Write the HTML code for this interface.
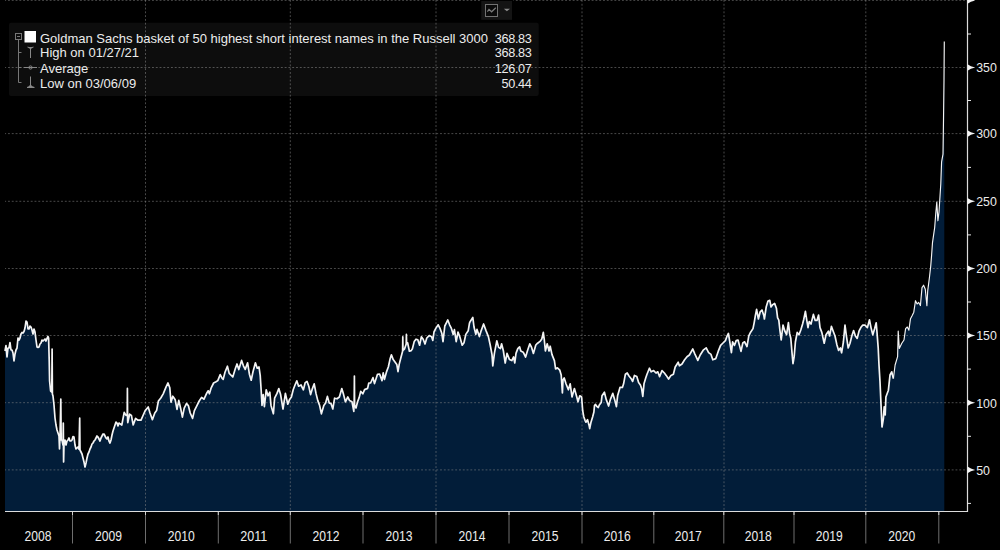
<!DOCTYPE html>
<html><head><meta charset="utf-8"><title>Goldman Sachs basket of 50 highest short interest names</title>
<style>
html,body{margin:0;padding:0;background:#000;}
body{width:1000px;height:550px;overflow:hidden;position:relative;font-family:"Liberation Sans",Arial,sans-serif;}
svg{position:absolute;left:0;top:0;}
.yl{font:13.3px "Liberation Sans",Arial,sans-serif;fill:#ececec;}
.xl{font:14px "Liberation Sans",Arial,sans-serif;fill:#ececec;text-anchor:middle;}
.lg{font:13px "Liberation Sans",Arial,sans-serif;fill:#ececec;}
.lv{font:12.7px "Liberation Sans",Arial,sans-serif;fill:#ececec;text-anchor:end;letter-spacing:-0.35px;}
</style></head>
<body>
<svg width="1000" height="550" viewBox="0 0 1000 550">
<rect x="0" y="0" width="1000" height="550" fill="#000"/>
<path d="M5 512 L5 351 L6 345.5 L7 357 L8 348 L9 348 L10 342.5 L11 350 L12 350 L13 353 L14 361 L15 354 L16 350 L17 348 L18 338 L19 340 L20 338 L21 334 L22 332.5 L23 333 L24 331.5 L25 328 L26 321 L27 322 L28 329 L29 329 L30 326 L31 327 L32 330 L33 334 L34 329 L35 332 L36 340 L37 347 L38 347.5 L39 347 L40 344 L41 343 L42 340 L43 341 L44 340 L45 339 L46 341 L47 338.5 L48 336.5 L48.6 338 L49.2 360 L49.6 381 L50.6 391 L51.8 392 L52.1 349 L52.4 394 L53 396 L54 405 L55 418 L56 425 L57 430 L58 433 L59 436 L59.5 449 L60 437 L60.8 399 L61.2 440 L62 440 L63 445 L63.3 423 L63.6 462 L64 445 L65 440 L66 445 L67 441 L68 440 L69 438 L70 441 L71 441 L72 440 L73 436.5 L74 437 L75 445 L76 449 L77 448 L78 447 L79 449 L79.7 418 L80 450 L81 452 L82 454 L83 458 L84 462 L85 467 L86 463 L87 458 L88 454 L89 452 L90 449 L91 447 L92 444 L93 443 L94 441 L95 440 L96 438 L97 436 L98 437 L99 439 L100 441 L101 438 L102 436 L103 434 L104 434 L105 436 L106 438 L107 439 L108 437 L109 441 L110 443 L111 440 L112 435 L113 431 L114 428 L115 425 L116 422 L117 423 L118 426 L119 423 L120 423.8 L121.8 425 L124.2 412.4 L126 415.4 L127.2 415 L127.4 388.4 L127.6 420 L127.8 422.6 L129.6 414.2 L131.4 415.4 L133.2 425 L135.6 418.4 L138 420.2 L141 420.2 L142.8 416 L145.2 410.6 L148.2 407 L150 413 L152.4 419.6 L154.8 413 L156.6 410.6 L158.4 401 L160.8 398 L163.2 393.8 L166.2 386.6 L168 383 L169.8 387.8 L171 402.2 L172.8 396.2 L175.2 399.8 L177 409.4 L178.8 400.4 L180.6 408.2 L182.4 417.2 L184.2 408.2 L186.6 403.4 L188.4 405.8 L190.2 413 L192.6 418.4 L194.4 410.6 L196.8 405.8 L199.2 401 L201.6 397.4 L204 399.2 L206.4 393.8 L208.2 390.8 L209.4 393.8 L211.2 387.8 L213.6 383 L216 381.8 L217.8 380.6 L220.2 374.6 L222 378.2 L223.2 379.4 L225 372.2 L227.4 366.2 L229.2 373.4 L232.8 377 L235.2 369 L237 364 L238.8 369.6 L241.6 360.4 L243.4 365.8 L245.2 369.4 L247.6 362.8 L249.4 374.2 L251.2 380.2 L253 371.8 L255.4 362.8 L257.2 368.2 L259 367 L260.2 375.4 L261.2 391 L262 405.4 L263.2 394.6 L264.4 406.6 L266.2 389.8 L268 395.8 L269.8 392.2 L271 405.4 L273.4 413.8 L274.6 398.2 L277 393.4 L278.8 388.6 L280.6 394.6 L283 409 L285.4 393.4 L287.8 404.2 L289.6 399.4 L291.4 397 L293.2 389.8 L295 385 L296.8 380.8 L298.6 386.2 L301 385 L303.4 389.8 L305.2 382.6 L307 381.4 L308.8 386.2 L310.6 394.6 L312.4 388.6 L314.2 383.8 L316 393.4 L317.8 400.6 L319.6 405.4 L321.4 413.8 L323.8 405.4 L325.6 403 L327.4 396.4 L329.2 403 L331 403.6 L332.8 409 L334.6 398.2 L337 398.8 L339.4 397 L341.8 388.6 L343.6 394.6 L345.4 401.8 L347.8 397 L349.6 400.6 L352 401.8 L353.8 411.4 L354.2 400 L354.4 376 L354.6 405 L356 408 L357.5 402 L359.2 397.4 L360.7 391.4 L362.8 393.8 L364.6 389.6 L367.6 388.4 L368.8 383 L370.6 383 L373 377.6 L374.5 383.6 L377.5 374.3 L379.6 374 L382 380.6 L383.2 372.8 L384.4 379.4 L386.6 371.6 L388.4 366.8 L390.2 358.4 L391.4 354.8 L393.2 359.6 L395 362 L396.8 364.4 L398 371.6 L399.2 364.4 L401 357.2 L402.6 351.2 L402.8 336.8 L403 350.5 L404.6 348.8 L406.2 344 L406.4 334.4 L406.6 343.5 L407.6 342.8 L409.4 351.2 L411.2 350.6 L412.4 348.8 L414.2 341.6 L416 339.2 L417.8 339.8 L419.6 345.2 L421.4 336.8 L423.2 339.2 L425 344 L426.8 338 L429.2 335.6 L431.6 336.8 L432.8 340.4 L434 332 L435.8 328.4 L438.2 324.8 L440 328.4 L441.8 333.2 L443 341.6 L444.8 326 L446.6 322.4 L447.8 320 L449.6 324.8 L451.4 328.4 L453.2 334.4 L454.4 329.6 L456.2 341.6 L458 332 L459.8 336.8 L462.2 345.2 L464 342.8 L465.8 334.4 L468.2 330.8 L469.4 323.6 L469.8 322.2 L472.8 317.4 L474 327 L475.8 334.2 L477 329.4 L479.4 336.6 L481.2 330.6 L483.6 324 L486 330.6 L488.4 336.6 L490.2 345 L492 354.6 L492.8 366 L494.4 353.4 L496.8 340.8 L498.6 347.4 L500.4 348.6 L501.6 343.8 L503.4 351 L505.2 363 L507 353.4 L509.4 359.4 L511.8 360.6 L513.6 357 L514.8 363 L516 353.4 L517.8 348.6 L519.6 346.8 L520.8 351 L523.2 352.2 L525.6 357 L527.4 351 L529.8 343.8 L531.6 347.4 L533.4 353.4 L535.8 345 L537.6 343.2 L540 341.4 L541.8 339 L543.3 332.4 L544.2 339 L545.4 351 L547.2 343.8 L549 351 L550.2 346.2 L552 354.6 L554.4 360.6 L555.6 369 L557.4 367.8 L559.8 370.2 L561.2 375 L562.4 393 L563 380 L564.2 378 L566 383.8 L568.4 389.8 L570.2 383.8 L572 397 L574.4 388.6 L576.8 397 L578 401.8 L579.8 395.8 L581.6 397 L582.7 410.7 L583.7 416.5 L585 420.3 L585.9 422.2 L587.5 419.6 L589.1 425.4 L589.7 428.6 L591 422.2 L592.6 417 L593.9 412 L594.5 405.6 L595.5 404.4 L596.7 406.3 L598.3 407.5 L599.3 405 L601.2 402.5 L602 395.8 L604.4 392.2 L606.2 399.4 L608.6 406 L610.4 399.4 L612.8 393.4 L614.6 399.4 L616.4 406.6 L617.6 395.8 L620 387.4 L622.4 387.4 L623.6 383.8 L625.4 374.2 L627.2 373 L629 376 L631.4 379 L632.6 381.4 L634.4 375.4 L636.8 376.6 L638.6 382.6 L640.4 385 L641.6 388.6 L642.8 396.4 L644 383.8 L645.8 377.8 L647 374.2 L649.4 368.2 L651.2 371.8 L653.6 370.6 L656 373 L657.8 371.8 L659.6 376.6 L662 370.6 L664.4 373 L666.2 375.4 L668.6 379 L671 375.4 L673.4 374.2 L675.2 367 L678.2 362.2 L679.4 365.8 L682 364 L684.6 359.8 L687 356.8 L689.4 355 L692.8 349 L694.8 353.8 L697.8 360.4 L700.2 355 L703.2 350.2 L706.2 347.8 L708.6 352.6 L711 354.4 L712.8 359.8 L715.8 358.6 L718.2 351.4 L720.6 345.4 L723 343 L725.4 340.6 L727.2 335.8 L728.4 333.4 L729.6 340.6 L731.4 352.6 L732.6 341.8 L734.4 345.4 L736.2 340.6 L738 340 L739.8 346.6 L741 351.4 L742.8 343 L744.6 341.8 L747 346.6 L748.8 335.8 L750.6 332.2 L753 328.6 L754.2 322.6 L755.4 315.4 L756.6 309.4 L758.4 319 L760.2 311.8 L762 310 L763.8 315.4 L764.4 319 L766.2 307 L768 301 L769.8 300.4 L771 307 L772.8 304.6 L774.6 303.4 L776.4 308.2 L777.6 317.8 L778.8 320.2 L780 331 L781.2 340 L783 325 L784.8 331 L786.6 334.6 L788.4 322.6 L789.6 333.4 L790.8 338.2 L792 352.6 L793 363.6 L794.2 356.4 L795.4 342 L797.2 332.4 L799 334.8 L800.8 330 L802.6 324 L803.8 319.2 L805.4 311.4 L806.8 320.4 L808 327.6 L809.2 321.6 L811 324 L813.4 314.4 L815.2 320.4 L817 320.4 L818.6 315 L820 327.6 L821.8 332.4 L824.2 343.2 L826 334.8 L828.4 331.2 L829.6 336 L831.4 326.4 L833.2 331.2 L835 336 L836.8 344.4 L838.6 350.4 L840.4 348 L841.6 352.8 L843.4 342 L845 325.2 L846.4 336 L848.2 348 L850 343.2 L851.8 336 L853.6 330.6 L855.4 336 L857.2 338.4 L859 331.2 L860.8 327.6 L862.6 325.2 L865 325.2 L867.4 327.6 L869.5 319.8 L871 327.6 L872.8 334.8 L874.6 328.8 L876.2 322.8 L877 332.4 L878.2 348 L879 365 L880 381.8 L880.9 401.9 L881.7 420.3 L882 427 L883.4 418.6 L884.2 406.9 L885.2 415 L885.9 397 L888.4 390.2 L890 375 L891.7 371.8 L893.4 378.5 L895.1 365 L897.6 356.7 L898.2 331 L899.3 348.4 L901.8 343.3 L904 340 L905.6 328.6 L907.3 327 L908.9 330.2 L910.5 318.7 L912.2 315.5 L913.8 312.2 L915.5 300.7 L917.1 304 L918.7 302.4 L920.4 305.6 L922 287.6 L923.6 285.2 L925.3 289.3 L926.9 305.6 L927.7 290.9 L929.4 277.8 L930.7 266.4 L931.4 257.9 L932.5 242.6 L934.7 227.3 L935.7 214.2 L936.8 202 L937.9 220.8 L939 212 L940.8 183.7 L941.6 161.8 L943 154.2 L943.5 120 L944 80 L944.3 41.5 L944.3 512 Z" fill="#021d39"/>
<g stroke="rgba(140,140,140,0.52)" stroke-width="1" stroke-dasharray="1.9 1.89" fill="none">
<line x1="5" y1="0.4" x2="967" y2="0.4" stroke-dashoffset="0.8"/>
<line x1="5" y1="67.5" x2="967" y2="67.5" stroke-dashoffset="0.8"/>
<line x1="5" y1="133.6" x2="967" y2="133.6" stroke-dashoffset="0.8"/>
<line x1="5" y1="201.3" x2="967" y2="201.3" stroke-dashoffset="0.8"/>
<line x1="5" y1="268.5" x2="967" y2="268.5" stroke-dashoffset="0.8"/>
<line x1="5" y1="335.5" x2="967" y2="335.5" stroke-dashoffset="0.8"/>
<line x1="5" y1="402.7" x2="967" y2="402.7" stroke-dashoffset="0.8"/>
<line x1="5" y1="469.9" x2="967" y2="469.9" stroke-dashoffset="0.8"/>
<line x1="145.5" y1="0" x2="145.5" y2="511"/>
<line x1="290.3" y1="0" x2="290.3" y2="511"/>
<line x1="436" y1="0" x2="436" y2="511"/>
<line x1="582" y1="0" x2="582" y2="511"/>
<line x1="724" y1="0" x2="724" y2="511"/>
<line x1="865.8" y1="0" x2="865.8" y2="511"/>
</g>
<path d="M5 351 L6 345.5 L7 357 L8 348 L9 348 L10 342.5 L11 350 L12 350 L13 353 L14 361 L15 354 L16 350 L17 348 L18 338 L19 340 L20 338 L21 334 L22 332.5 L23 333 L24 331.5 L25 328 L26 321 L27 322 L28 329 L29 329 L30 326 L31 327 L32 330 L33 334 L34 329 L35 332 L36 340 L37 347 L38 347.5 L39 347 L40 344 L41 343 L42 340 L43 341 L44 340 L45 339 L46 341 L47 338.5 L48 336.5 L48.6 338 L49.2 360 L49.6 381 L50.6 391 L51.8 392 L52.1 349 L52.4 394 L53 396 L54 405 L55 418 L56 425 L57 430 L58 433 L59 436 L59.5 449 L60 437 L60.8 399 L61.2 440 L62 440 L63 445 L63.3 423 L63.6 462 L64 445 L65 440 L66 445 L67 441 L68 440 L69 438 L70 441 L71 441 L72 440 L73 436.5 L74 437 L75 445 L76 449 L77 448 L78 447 L79 449 L79.7 418 L80 450 L81 452 L82 454 L83 458 L84 462 L85 467 L86 463 L87 458 L88 454 L89 452 L90 449 L91 447 L92 444 L93 443 L94 441 L95 440 L96 438 L97 436 L98 437 L99 439 L100 441 L101 438 L102 436 L103 434 L104 434 L105 436 L106 438 L107 439 L108 437 L109 441 L110 443 L111 440 L112 435 L113 431 L114 428 L115 425 L116 422 L117 423 L118 426 L119 423 L120 423.8 L121.8 425 L124.2 412.4 L126 415.4 L127.2 415 L127.4 388.4 L127.6 420 L127.8 422.6 L129.6 414.2 L131.4 415.4 L133.2 425 L135.6 418.4 L138 420.2 L141 420.2 L142.8 416 L145.2 410.6 L148.2 407 L150 413 L152.4 419.6 L154.8 413 L156.6 410.6 L158.4 401 L160.8 398 L163.2 393.8 L166.2 386.6 L168 383 L169.8 387.8 L171 402.2 L172.8 396.2 L175.2 399.8 L177 409.4 L178.8 400.4 L180.6 408.2 L182.4 417.2 L184.2 408.2 L186.6 403.4 L188.4 405.8 L190.2 413 L192.6 418.4 L194.4 410.6 L196.8 405.8 L199.2 401 L201.6 397.4 L204 399.2 L206.4 393.8 L208.2 390.8 L209.4 393.8 L211.2 387.8 L213.6 383 L216 381.8 L217.8 380.6 L220.2 374.6 L222 378.2 L223.2 379.4 L225 372.2 L227.4 366.2 L229.2 373.4 L232.8 377 L235.2 369 L237 364 L238.8 369.6 L241.6 360.4 L243.4 365.8 L245.2 369.4 L247.6 362.8 L249.4 374.2 L251.2 380.2 L253 371.8 L255.4 362.8 L257.2 368.2 L259 367 L260.2 375.4 L261.2 391 L262 405.4 L263.2 394.6 L264.4 406.6 L266.2 389.8 L268 395.8 L269.8 392.2 L271 405.4 L273.4 413.8 L274.6 398.2 L277 393.4 L278.8 388.6 L280.6 394.6 L283 409 L285.4 393.4 L287.8 404.2 L289.6 399.4 L291.4 397 L293.2 389.8 L295 385 L296.8 380.8 L298.6 386.2 L301 385 L303.4 389.8 L305.2 382.6 L307 381.4 L308.8 386.2 L310.6 394.6 L312.4 388.6 L314.2 383.8 L316 393.4 L317.8 400.6 L319.6 405.4 L321.4 413.8 L323.8 405.4 L325.6 403 L327.4 396.4 L329.2 403 L331 403.6 L332.8 409 L334.6 398.2 L337 398.8 L339.4 397 L341.8 388.6 L343.6 394.6 L345.4 401.8 L347.8 397 L349.6 400.6 L352 401.8 L353.8 411.4 L354.2 400 L354.4 376 L354.6 405 L356 408 L357.5 402 L359.2 397.4 L360.7 391.4 L362.8 393.8 L364.6 389.6 L367.6 388.4 L368.8 383 L370.6 383 L373 377.6 L374.5 383.6 L377.5 374.3 L379.6 374 L382 380.6 L383.2 372.8 L384.4 379.4 L386.6 371.6 L388.4 366.8 L390.2 358.4 L391.4 354.8 L393.2 359.6 L395 362 L396.8 364.4 L398 371.6 L399.2 364.4 L401 357.2 L402.6 351.2 L402.8 336.8 L403 350.5 L404.6 348.8 L406.2 344 L406.4 334.4 L406.6 343.5 L407.6 342.8 L409.4 351.2 L411.2 350.6 L412.4 348.8 L414.2 341.6 L416 339.2 L417.8 339.8 L419.6 345.2 L421.4 336.8 L423.2 339.2 L425 344 L426.8 338 L429.2 335.6 L431.6 336.8 L432.8 340.4 L434 332 L435.8 328.4 L438.2 324.8 L440 328.4 L441.8 333.2 L443 341.6 L444.8 326 L446.6 322.4 L447.8 320 L449.6 324.8 L451.4 328.4 L453.2 334.4 L454.4 329.6 L456.2 341.6 L458 332 L459.8 336.8 L462.2 345.2 L464 342.8 L465.8 334.4 L468.2 330.8 L469.4 323.6 L469.8 322.2 L472.8 317.4 L474 327 L475.8 334.2 L477 329.4 L479.4 336.6 L481.2 330.6 L483.6 324 L486 330.6 L488.4 336.6 L490.2 345 L492 354.6 L492.8 366 L494.4 353.4 L496.8 340.8 L498.6 347.4 L500.4 348.6 L501.6 343.8 L503.4 351 L505.2 363 L507 353.4 L509.4 359.4 L511.8 360.6 L513.6 357 L514.8 363 L516 353.4 L517.8 348.6 L519.6 346.8 L520.8 351 L523.2 352.2 L525.6 357 L527.4 351 L529.8 343.8 L531.6 347.4 L533.4 353.4 L535.8 345 L537.6 343.2 L540 341.4 L541.8 339 L543.3 332.4 L544.2 339 L545.4 351 L547.2 343.8 L549 351 L550.2 346.2 L552 354.6 L554.4 360.6 L555.6 369 L557.4 367.8 L559.8 370.2 L561.2 375 L562.4 393 L563 380 L564.2 378 L566 383.8 L568.4 389.8 L570.2 383.8 L572 397 L574.4 388.6 L576.8 397 L578 401.8 L579.8 395.8 L581.6 397 L582.7 410.7 L583.7 416.5 L585 420.3 L585.9 422.2 L587.5 419.6 L589.1 425.4 L589.7 428.6 L591 422.2 L592.6 417 L593.9 412 L594.5 405.6 L595.5 404.4 L596.7 406.3 L598.3 407.5 L599.3 405 L601.2 402.5 L602 395.8 L604.4 392.2 L606.2 399.4 L608.6 406 L610.4 399.4 L612.8 393.4 L614.6 399.4 L616.4 406.6 L617.6 395.8 L620 387.4 L622.4 387.4 L623.6 383.8 L625.4 374.2 L627.2 373 L629 376 L631.4 379 L632.6 381.4 L634.4 375.4 L636.8 376.6 L638.6 382.6 L640.4 385 L641.6 388.6 L642.8 396.4 L644 383.8 L645.8 377.8 L647 374.2 L649.4 368.2 L651.2 371.8 L653.6 370.6 L656 373 L657.8 371.8 L659.6 376.6 L662 370.6 L664.4 373 L666.2 375.4 L668.6 379 L671 375.4 L673.4 374.2 L675.2 367 L678.2 362.2 L679.4 365.8 L682 364 L684.6 359.8 L687 356.8 L689.4 355 L692.8 349 L694.8 353.8 L697.8 360.4 L700.2 355 L703.2 350.2 L706.2 347.8 L708.6 352.6 L711 354.4 L712.8 359.8 L715.8 358.6 L718.2 351.4 L720.6 345.4 L723 343 L725.4 340.6 L727.2 335.8 L728.4 333.4 L729.6 340.6 L731.4 352.6 L732.6 341.8 L734.4 345.4 L736.2 340.6 L738 340 L739.8 346.6 L741 351.4 L742.8 343 L744.6 341.8 L747 346.6 L748.8 335.8 L750.6 332.2 L753 328.6 L754.2 322.6 L755.4 315.4 L756.6 309.4 L758.4 319 L760.2 311.8 L762 310 L763.8 315.4 L764.4 319 L766.2 307 L768 301 L769.8 300.4 L771 307 L772.8 304.6 L774.6 303.4 L776.4 308.2 L777.6 317.8 L778.8 320.2 L780 331 L781.2 340 L783 325 L784.8 331 L786.6 334.6 L788.4 322.6 L789.6 333.4 L790.8 338.2 L792 352.6 L793 363.6 L794.2 356.4 L795.4 342 L797.2 332.4 L799 334.8 L800.8 330 L802.6 324 L803.8 319.2 L805.4 311.4 L806.8 320.4 L808 327.6 L809.2 321.6 L811 324 L813.4 314.4 L815.2 320.4 L817 320.4 L818.6 315 L820 327.6 L821.8 332.4 L824.2 343.2 L826 334.8 L828.4 331.2 L829.6 336 L831.4 326.4 L833.2 331.2 L835 336 L836.8 344.4 L838.6 350.4 L840.4 348 L841.6 352.8 L843.4 342 L845 325.2 L846.4 336 L848.2 348 L850 343.2 L851.8 336 L853.6 330.6 L855.4 336 L857.2 338.4 L859 331.2 L860.8 327.6 L862.6 325.2 L865 325.2 L867.4 327.6 L869.5 319.8 L871 327.6 L872.8 334.8 L874.6 328.8 L876.2 322.8 L877 332.4 L878.2 348 L879 365 L880 381.8 L880.9 401.9 L881.7 420.3 L882 427 L883.4 418.6 L884.2 406.9 L885.2 415 L885.9 397 L888.4 390.2 L890 375 L891.7 371.8 L893.4 378.5" fill="none" stroke="#f4f4f4" stroke-width="1.7" stroke-linejoin="round"/>
<path d="M893.4 378.5 L895.1 365 L897.6 356.7 L898.2 331 L899.3 348.4 L901.8 343.3 L904 340 L905.6 328.6 L907.3 327 L908.9 330.2 L910.5 318.7 L912.2 315.5 L913.8 312.2 L915.5 300.7 L917.1 304 L918.7 302.4 L920.4 305.6 L922 287.6 L923.6 285.2 L925.3 289.3 L926.9 305.6 L927.7 290.9 L929.4 277.8 L930.7 266.4 L931.4 257.9 L932.5 242.6 L934.7 227.3 L935.7 214.2 L936.8 202 L937.9 220.8 L939 212 L940.8 183.7 L941.6 161.8 L943 154.2 L943.5 120 L944 80 L944.3 41.5" fill="none" stroke="#f4f4f4" stroke-width="1.15" stroke-linejoin="round"/>
<!-- axes -->
<line x1="967.5" y1="0" x2="967.5" y2="512" stroke="#dcdcdc" stroke-width="1.2"/>
<line x1="5" y1="511.5" x2="968" y2="511.5" stroke="#dcdcdc" stroke-width="1.2"/>
<path d="M967.5 -2.9 Q970.5 -0.6 975.2 0.4 Q970.5 1.4 967.5 3.7 Z" fill="#f4f4f4"/>
<path d="M967.5 64.2 Q970.5 66.5 975.2 67.5 Q970.5 68.5 967.5 70.8 Z" fill="#f4f4f4"/>
<text x="976.2" y="72.3" class="yl" textLength="20.6" lengthAdjust="spacingAndGlyphs">350</text>
<path d="M967.5 130.3 Q970.5 132.6 975.2 133.6 Q970.5 134.6 967.5 136.9 Z" fill="#f4f4f4"/>
<text x="976.2" y="138.4" class="yl" textLength="20.6" lengthAdjust="spacingAndGlyphs">300</text>
<path d="M967.5 198 Q970.5 200.3 975.2 201.3 Q970.5 202.3 967.5 204.6 Z" fill="#f4f4f4"/>
<text x="976.2" y="206.1" class="yl" textLength="20.6" lengthAdjust="spacingAndGlyphs">250</text>
<path d="M967.5 265.2 Q970.5 267.5 975.2 268.5 Q970.5 269.5 967.5 271.8 Z" fill="#f4f4f4"/>
<text x="976.2" y="273.3" class="yl" textLength="20.6" lengthAdjust="spacingAndGlyphs">200</text>
<path d="M967.5 332.2 Q970.5 334.5 975.2 335.5 Q970.5 336.5 967.5 338.8 Z" fill="#f4f4f4"/>
<text x="976.2" y="340.3" class="yl" textLength="20.6" lengthAdjust="spacingAndGlyphs">150</text>
<path d="M967.5 399.4 Q970.5 401.7 975.2 402.7 Q970.5 403.7 967.5 406 Z" fill="#f4f4f4"/>
<text x="976.2" y="407.5" class="yl" textLength="20.6" lengthAdjust="spacingAndGlyphs">100</text>
<path d="M967.5 466.6 Q970.5 468.9 975.2 469.9 Q970.5 470.9 967.5 473.2 Z" fill="#f4f4f4"/>
<text x="976.2" y="474.7" class="yl" textLength="13.8" lengthAdjust="spacingAndGlyphs">50</text>
<line x1="967" y1="34" x2="971" y2="34" stroke="#e6e6e6" stroke-width="1"/>
<line x1="967" y1="100.5" x2="971" y2="100.5" stroke="#e6e6e6" stroke-width="1"/>
<line x1="967" y1="167.4" x2="971" y2="167.4" stroke="#e6e6e6" stroke-width="1"/>
<line x1="967" y1="234.9" x2="971" y2="234.9" stroke="#e6e6e6" stroke-width="1"/>
<line x1="967" y1="302" x2="971" y2="302" stroke="#e6e6e6" stroke-width="1"/>
<line x1="967" y1="369.1" x2="971" y2="369.1" stroke="#e6e6e6" stroke-width="1"/>
<line x1="967" y1="436.3" x2="971" y2="436.3" stroke="#e6e6e6" stroke-width="1"/>
<line x1="967" y1="503.4" x2="971" y2="503.4" stroke="#e6e6e6" stroke-width="1"/>
<line x1="72.5" y1="512" x2="72.5" y2="543.5" stroke="#6e6e6e" stroke-width="1"/>
<line x1="72.5" y1="512" x2="72.5" y2="515" stroke="#d0d0d0" stroke-width="1"/>
<line x1="145.5" y1="512" x2="145.5" y2="543.5" stroke="#6e6e6e" stroke-width="1"/>
<line x1="145.5" y1="512" x2="145.5" y2="515" stroke="#d0d0d0" stroke-width="1"/>
<line x1="218.3" y1="512" x2="218.3" y2="543.5" stroke="#6e6e6e" stroke-width="1"/>
<line x1="218.3" y1="512" x2="218.3" y2="515" stroke="#d0d0d0" stroke-width="1"/>
<line x1="290.3" y1="512" x2="290.3" y2="543.5" stroke="#6e6e6e" stroke-width="1"/>
<line x1="290.3" y1="512" x2="290.3" y2="515" stroke="#d0d0d0" stroke-width="1"/>
<line x1="363" y1="512" x2="363" y2="543.5" stroke="#6e6e6e" stroke-width="1"/>
<line x1="363" y1="512" x2="363" y2="515" stroke="#d0d0d0" stroke-width="1"/>
<line x1="436" y1="512" x2="436" y2="543.5" stroke="#6e6e6e" stroke-width="1"/>
<line x1="436" y1="512" x2="436" y2="515" stroke="#d0d0d0" stroke-width="1"/>
<line x1="509" y1="512" x2="509" y2="543.5" stroke="#6e6e6e" stroke-width="1"/>
<line x1="509" y1="512" x2="509" y2="515" stroke="#d0d0d0" stroke-width="1"/>
<line x1="582" y1="512" x2="582" y2="543.5" stroke="#6e6e6e" stroke-width="1"/>
<line x1="582" y1="512" x2="582" y2="515" stroke="#d0d0d0" stroke-width="1"/>
<line x1="653.8" y1="512" x2="653.8" y2="543.5" stroke="#6e6e6e" stroke-width="1"/>
<line x1="653.8" y1="512" x2="653.8" y2="515" stroke="#d0d0d0" stroke-width="1"/>
<line x1="723.8" y1="512" x2="723.8" y2="543.5" stroke="#6e6e6e" stroke-width="1"/>
<line x1="723.8" y1="512" x2="723.8" y2="515" stroke="#d0d0d0" stroke-width="1"/>
<line x1="794" y1="512" x2="794" y2="543.5" stroke="#6e6e6e" stroke-width="1"/>
<line x1="794" y1="512" x2="794" y2="515" stroke="#d0d0d0" stroke-width="1"/>
<line x1="865.8" y1="512" x2="865.8" y2="543.5" stroke="#6e6e6e" stroke-width="1"/>
<line x1="865.8" y1="512" x2="865.8" y2="515" stroke="#d0d0d0" stroke-width="1"/>
<line x1="938.8" y1="512" x2="938.8" y2="543.5" stroke="#6e6e6e" stroke-width="1"/>
<line x1="938.8" y1="512" x2="938.8" y2="515" stroke="#d0d0d0" stroke-width="1"/>
<text x="38.1" y="540.7" class="xl" textLength="27" lengthAdjust="spacingAndGlyphs">2008</text>
<text x="108.4" y="540.7" class="xl" textLength="27" lengthAdjust="spacingAndGlyphs">2009</text>
<text x="181.3" y="540.7" class="xl" textLength="27" lengthAdjust="spacingAndGlyphs">2010</text>
<text x="253.7" y="540.7" class="xl" textLength="27" lengthAdjust="spacingAndGlyphs">2011</text>
<text x="326" y="540.7" class="xl" textLength="27" lengthAdjust="spacingAndGlyphs">2012</text>
<text x="398.9" y="540.7" class="xl" textLength="27" lengthAdjust="spacingAndGlyphs">2013</text>
<text x="471.9" y="540.7" class="xl" textLength="27" lengthAdjust="spacingAndGlyphs">2014</text>
<text x="544.9" y="540.7" class="xl" textLength="27" lengthAdjust="spacingAndGlyphs">2015</text>
<text x="617.3" y="540.7" class="xl" textLength="27" lengthAdjust="spacingAndGlyphs">2016</text>
<text x="688.2" y="540.7" class="xl" textLength="27" lengthAdjust="spacingAndGlyphs">2017</text>
<text x="758.3" y="540.7" class="xl" textLength="27" lengthAdjust="spacingAndGlyphs">2018</text>
<text x="829.3" y="540.7" class="xl" textLength="27" lengthAdjust="spacingAndGlyphs">2019</text>
<text x="901.7" y="540.7" class="xl" textLength="27" lengthAdjust="spacingAndGlyphs">2020</text>
<!-- legend -->
<rect x="9" y="22.8" width="529.7" height="73.2" rx="2" fill="rgba(255,255,255,0.052)"/>
<rect x="15.5" y="33.5" width="6" height="6" fill="none" stroke="#777" stroke-width="1"/>
<line x1="17" y1="36.5" x2="20" y2="36.5" stroke="#777" stroke-width="1"/>
<path d="M18.5 39.5 V82.5 H21.5 M18.5 52.5 H21.5 M18.5 67.5 H21.5" fill="none" stroke="#777" stroke-width="1"/>
<rect x="24.5" y="31" width="11.5" height="11.5" fill="#fff"/>
<path d="M27.5 46.5 Q30.5 47.5 33.5 46.5 L33.5 47.5 Q31.5 48 31 49 V58 H30 V49 Q29.5 48 27.5 47.5 Z" fill="#888"/>
<path d="M24 67.5 H37" stroke="#888" stroke-width="1"/>
<circle cx="30.5" cy="67.5" r="1.6" fill="none" stroke="#888" stroke-width="1"/>
<path d="M30 76.5 H31 V85 Q32 86.5 34.5 87 V88 H27 V87 Q29 86.5 30 85 Z" fill="#888"/>
<text x="40" y="42.5" class="lg">Goldman Sachs basket of 50 highest short interest names in the Russell 3000</text>
<text x="40" y="57.3" class="lg">High on 01/27/21</text>
<text x="40" y="72.8" class="lg">Average</text>
<text x="40" y="87.5" class="lg">Low on 03/06/09</text>
<text x="531.5" y="42.5" class="lv">368.83</text>
<text x="531.5" y="57.3" class="lv">368.83</text>
<text x="531.5" y="72.8" class="lv">126.07</text>
<text x="531.5" y="87.5" class="lv">50.44</text>
<!-- widget -->
<rect x="480" y="0" width="33.5" height="1.2" fill="#000"/>
<rect x="481.3" y="1" width="30.7" height="18.8" fill="#141414"/>
<rect x="485.5" y="4.5" width="12" height="12" fill="#0a0a0a" stroke="#727272" stroke-width="1"/>
<path d="M487.4 11.6 L489 9.3 L491.6 11.8 L495.8 7.8" fill="none" stroke="#7a7a7a" stroke-width="1.2"/>
<path d="M503.8 8.8 H510 L506.9 11.3 Z" fill="#8a8a8a"/>
</svg>
</body></html>
